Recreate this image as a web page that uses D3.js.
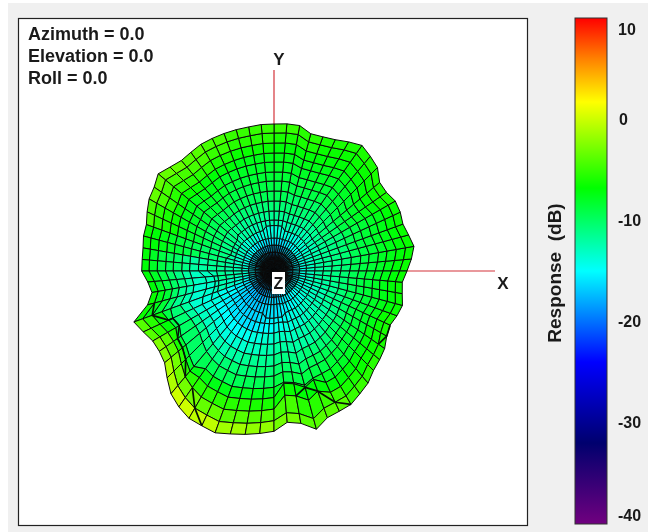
<!DOCTYPE html>
<html><head><meta charset="utf-8">
<script src="https://cdn.jsdelivr.net/npm/d3@7"></script>
<style>
html,body{margin:0;padding:0;background:#fff}
svg{display:block;filter:blur(0.45px)}
text{font-family:"Liberation Sans",Arial,sans-serif;font-weight:bold;fill:#1a1a1a;font-size:18px}
</style></head><body>
<svg id="c" width="648" height="532"></svg>
<script>
const angleLabels = ["Azimuth = 0.0","Elevation = 0.0","Roll = 0.0"];
const colorTicks = [10,0,-10,-20,-30,-40];
const colorStops = [10,6,1.7,-6.8,-15,-24,-32,-40];
const colorValues = ["#ff0000","#ff8000","#ffff00","#00ff00","#00ffff","#0000ff","#00006e","#70007f"];
// ring position as a share of the surface radius, centre to rim
const ringShare = [4,8,13,19,26,33,42,51,60,70,80,90,99,109,118,128,138,147].map(d=>d/147);
// rim response every 5 degrees, counter-clockwise from +X
const rimResponse = [-7,-6.3,-5.7,-6.1,-6.4,-6.1,-6,-6.4,-6.3,-5.1,-4.6,-4.1,-4.7,-5.3,-5.6,-5.7,-4.9,-4.9,
 -5,-5,-5.1,-5.1,-5.1,-5.1,-5.1,-5.3,-5.4,-5,-4.4,-5.1,-5.4,-6,-6.6,-6.7,-7,-7.1,
 -7.1,-7.9,-8.3,-7.3,-4.7,-5.4,-6,-6,-5.6,-4.4,-3.1,-2.3,-1.7,-1.6,-1.4,-1.9,-2.3,-2.7,
 -3.1,-4.3,-3.9,-2.6,-3.7,-3.9,-4,-4.6,-5.1,-5.9,-6.3,-6.7,-7.4,-7.7,-7.3,-7,-7.4,-7.6];
// colour response per ring (rows) and 10-degree sector (columns)
const response = [
[-18,-18,-18,-18,-18,-18,-18,-18,-18,-18,-18,-18,-18,-18,-18,-18,-18,-18,-18,-18,-19,-19,-19,-19,-19,-19,-19,-19,-18,-18,-18,-18,-18,-18,-18,-18],
[-18,-18,-18,-18,-18,-18,-18,-18,-18,-18,-18,-18,-18,-18,-18,-18,-18,-18,-18,-18,-19,-19,-19,-19,-19,-19,-19,-19,-18,-18,-18,-18,-18,-18,-18,-18],
[-17,-17,-17,-17,-17,-17,-17,-17,-17,-18,-18,-18,-17,-17,-17,-17,-17,-17,-17,-17,-18,-18,-18,-18,-18,-18,-18,-18,-17,-17,-17,-17,-17,-17,-17,-17],
[-16,-16,-16,-16,-17,-17,-17,-17,-18,-18,-18,-17,-17,-17,-17,-16,-16,-16,-16,-17,-17,-18,-18,-18,-18,-18,-18,-17,-17,-17,-16,-16,-16,-16,-16,-16],
[-15,-15,-15,-15.5,-16,-16,-16.5,-17,-17,-17,-17,-17,-16.5,-16,-16,-15.5,-15.5,-15,-15,-15.5,-16.5,-17.5,-18,-18,-18,-17.5,-17,-17,-16.5,-16,-15.5,-15,-15,-15,-15,-15],
[-14,-14,-14,-14.5,-14.5,-15,-15.5,-16,-16,-16,-16,-15.5,-15.5,-15,-14.5,-14.5,-14,-13.5,-13.5,-14.5,-16,-17,-17.5,-17.5,-17.5,-17,-16.5,-16.5,-16,-15.5,-15,-14.5,-14,-14,-14,-14],
[-13,-13,-13,-13.5,-13.5,-14,-14,-14,-14,-14,-14,-14,-13.5,-13.5,-13,-13,-13,-12.5,-12.5,-13.5,-15.5,-16.5,-17,-17,-17,-16.5,-16,-16,-15.5,-15,-14.5,-14,-13.5,-13.5,-13,-13],
[-12,-12,-12.5,-12.5,-12.5,-12.5,-12.5,-12.5,-12.5,-12.5,-12.5,-12.5,-12,-12,-12,-12,-12,-12,-12,-13,-15,-16,-16.5,-16.5,-16.5,-16,-15.5,-15,-14.5,-14,-13.5,-13,-13,-13,-12.5,-12],
[-11.5,-11.5,-11.5,-11.5,-11.5,-11.5,-11.5,-11.5,-11.5,-11.5,-11.5,-11.5,-11.5,-11,-11,-11,-11,-11.5,-11.5,-12.5,-14.5,-15.5,-16,-16,-16,-15.5,-15,-14.5,-14,-13.5,-13,-12.5,-12.5,-12.5,-12,-11.5],
[-11,-11,-11,-10.5,-10.5,-10.5,-10.5,-10.5,-10.5,-10.5,-10.5,-10.5,-10.5,-10,-10,-10,-10.5,-11.5,-12.5,-13,-14,-15,-15,-15,-14.5,-14,-13.5,-13,-13,-12.5,-12,-12,-12,-11.5,-11.5,-11],
[-10.5,-10.5,-10.5,-10,-10,-10,-10,-10,-9.5,-9.5,-9.5,-9.5,-9.5,-9.5,-9.5,-9.5,-10,-12,-13,-13.5,-14,-14,-14,-14,-13.5,-13,-12.5,-12,-12,-12,-11.5,-11,-11,-11,-10.5,-10.5],
[-9.5,-9.5,-9.5,-9,-9,-9,-9,-9,-9,-9,-9,-9,-8.5,-8.5,-8.5,-8.5,-9.5,-12,-13,-13.5,-13.5,-13,-13,-12.5,-12,-11.5,-11.5,-11,-11,-10.5,-10.5,-10,-10,-10,-9.5,-9.5],
[-9,-9,-9,-8.5,-8.5,-8.5,-8.5,-8.5,-8.5,-8.5,-8.5,-8.5,-8,-8,-8,-8,-9,-11,-12,-12.5,-12,-11.5,-11,-11,-10.5,-10.5,-10.5,-10,-10,-9.5,-9.5,-9,-9,-9,-9,-9],
[-8.5,-8.5,-8.5,-8,-8,-8,-8,-8,-8,-8,-8,-8,-7.5,-7.5,-7.5,-7.5,-8.5,-10,-11,-11.5,-10.5,-10,-10,-9.5,-9.5,-9.5,-9.5,-9,-9,-9,-8.5,-8.5,-8.5,-8.5,-8.5,-8.5],
[-8,-8,-8,-7.5,-7.5,-7.5,-7.5,-7.5,-7.5,-7.5,-7.5,-7,-7,-6.5,-6.5,-6.5,-8,-9.5,-10,-10,-9,-8.5,-8,-7.5,-7.5,-7.5,-7.5,-8,-8,-8,-8,-8,-8,-8,-8,-8],
[-7.5,-7.5,-7.5,-7,-7,-7,-7,-7,-7,-6.5,-6.5,-6,-5.5,-5.5,-5.5,-6,-7.5,-9,-9,-8.5,-7,-6,-5.5,-5.5,-5.5,-5.5,-6,-6.5,-7,-7,-7,-7,-7,-7.5,-7.5,-7.5],
[-7,-7,-7,-6.5,-6.5,-6.5,-6.5,-6,-6,-5.5,-5.5,-5,-4.5,-4.5,-4.5,-5.5,-7,-8,-8,-7.5,-5.5,-4,-3,-3,-3.5,-4,-4,-4.5,-5.5,-5,-6,-6.5,-6.5,-6.5,-7,-7],
[-6.5,-6.5,-6.5,-6,-6,-6,-6,-5.5,-5,-5,-5,-4.5,-4,-3.5,-3.5,-4.5,-6.5,-7,-7,-6.5,-4,-2.5,-1,0,-0.5,-1.5,-2,-3,-4,-4,-5,-5.5,-6,-6,-6.5,-6.5]
];
// sparse surface dents: ring, first spoke, last spoke, response change
const dentRing  = [9,10, 13,13,14, 14,15, 6,6, 7];
const dentFrom  = [37,37, 41,43,43, 55,55, 52,16, 28];
const dentTo    = [40,40, 42,46,46, 58,58, 56,20, 32];
const dentDelta = [-.7,-.7, .6,1.2,.6, -1.2,-1, .6,.5, -.5];
// dark creases on the surface, as ring/spoke pairs
const creaseRings  = [[16,15,14,13,13,14,14,14,15],[15,16,17],[15,14,15,16,17],[16,17,17]];
const creaseSpokes = [[39,40,41,41,42,43,44,45,46],[47,48,49],[56,57,58,59,60],[65,66,67]];
const labelX = "X", labelY = "Y", labelZ = "Z", barTitle = "Response  (dB)";

const svg = d3.select("#c");
svg.append("rect").attr("x",8).attr("y",3).attr("width",640).attr("height",529).attr("fill","#f0f0f0");
svg.append("rect").attr("x",18.5).attr("y",18.5).attr("width",509).attr("height",507).attr("fill","#fff").attr("stroke","#222").attr("stroke-width",1.2);

const cx = 274, cy = 271;
const color = d3.scaleLinear().domain(colorStops).range(colorValues);
const rScale = d3.scaleLinear().domain([-26,10]).range([0,252]);
const base = rScale(-5), perDb = rScale(1)-rScale(0);
const sx = d3.scaleLinear().domain([-1,1]).range([cx-1,cx+1]);
const sy = d3.scaleLinear().domain([-1,1]).range([cy+1,cy-1]);
const nS = rimResponse.length;
function dent(i,j){ let t=0; dentRing.forEach((r,k)=>{ if(r===i&&j>=dentFrom[k]&&j<=dentTo[k]) t+=dentDelta[k]; }); return t; }
function radius(i,j){ if(i<0) return 0; const jj=j%nS,s=ringShare[i]; return s*base+(rScale(rimResponse[jj])-base)*s*s+dent(i,jj)*perDb; }
function pt(i,j){ const a=(j%nS)*2*Math.PI/nS, r=radius(i,j); return [sx(r*Math.cos(a)),sy(r*Math.sin(a))]; }

// axes under the surface
const axisCol="#d4333a";
svg.append("line").attr("x1",cx).attr("x2",cx).attr("y1",70).attr("y2",cy).attr("stroke",axisCol).attr("stroke-width",1.2);
svg.append("line").attr("x1",cx).attr("x2",495).attr("y1",cy).attr("y2",cy).attr("stroke",axisCol).attr("stroke-width",1.2);

const cells=[];
response.forEach((row,i)=>{ for(let j=0;j<nS;j++) cells.push({i,j,v:row[Math.floor(j/2)]}); });
const line=d3.line();
svg.append("g").selectAll("path").data(cells).join("path")
 .attr("d",d=>line([pt(d.i-1,d.j),pt(d.i-1,d.j+1),pt(d.i,d.j+1),pt(d.i,d.j)])+"Z")
 .attr("fill",d=>color(d.v)).attr("stroke","#0a0a0a").attr("stroke-width",d=>d.i<5?1.2:1).attr("stroke-linejoin","round");
svg.append("g").selectAll("path").data(creaseRings).join("path")
 .attr("d",(d,k)=>line(d.map((r,m)=>pt(r,creaseSpokes[k][m]))))
 .attr("fill","none").attr("stroke","#061206").attr("stroke-width",1.7).attr("stroke-linejoin","round");

svg.append("g").selectAll("text").data(angleLabels).join("text")
 .attr("x",28).attr("y",(d,i)=>40+i*22).text(d=>d);
svg.append("text").attr("x",279).attr("y",65).attr("text-anchor","middle").style("font-size","17px").text(labelY);
svg.append("text").attr("x",503).attr("y",289).attr("text-anchor","middle").style("font-size","17px").text(labelX);
svg.append("rect").attr("x",272).attr("y",272).attr("width",13).attr("height",22).attr("fill","#fff");
svg.append("text").attr("x",278.5).attr("y",289).attr("text-anchor","middle").style("font-size","16px").text(labelZ);

// colour bar
const barY = d3.scaleLinear().domain([10,-40]).range([18,524]);
const defs=svg.append("defs");
const grad=defs.append("linearGradient").attr("id","bar").attr("x1",0).attr("x2",0).attr("y1",0).attr("y2",1);
grad.selectAll("stop").data(colorStops).join("stop")
 .attr("offset",d=>(barY(d)-18)/506).attr("stop-color",d=>color(d));
svg.append("rect").attr("x",575).attr("y",18).attr("width",32).attr("height",506).attr("fill","url(#bar)").attr("stroke","#333").attr("stroke-width",1);
const ax=svg.append("g").attr("transform","translate(618,0)").call(d3.axisRight(barY).tickValues(colorTicks).tickSize(0).tickPadding(0).tickFormat(d=>String(d)));
ax.select(".domain").remove();
ax.selectAll("text").attr("x",d=>d===0?1:0).attr("dy",d=>d===10?"1.05em":d===-40?"-0.25em":"0.32em").style("font-family",'"Liberation Sans"').style("font-size","16px").style("font-weight","bold");
svg.append("text").attr("transform","translate(561,273) rotate(-90)").attr("text-anchor","middle").style("white-space","pre").style("font-size","19px").text(barTitle);
</script>
</body></html>
